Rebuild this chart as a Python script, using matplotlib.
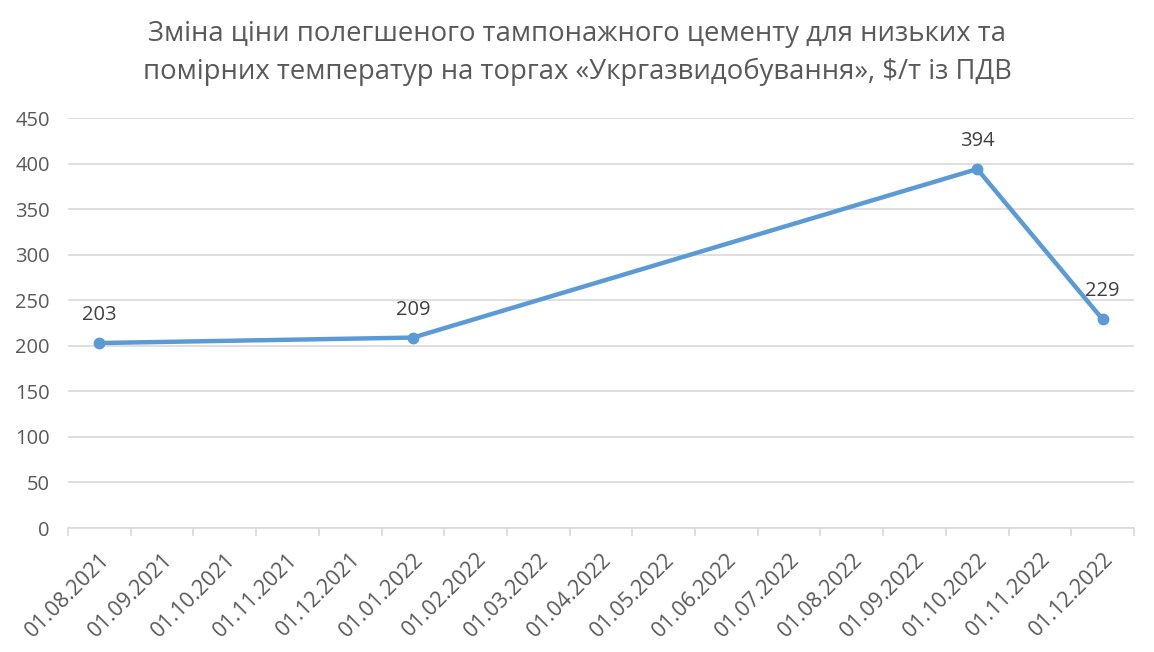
import matplotlib
matplotlib.use("Agg")
import matplotlib.pyplot as plt
import numpy as np

plt.rcParams['font.family'] = ['Open Sans', 'DejaVu Sans']

# category axis (monthly)
months = ["01.08.2021", "01.09.2021", "01.10.2021", "01.11.2021", "01.12.2021",
          "01.01.2022", "01.02.2022", "01.03.2022", "01.04.2022", "01.05.2022",
          "01.06.2022", "01.07.2022", "01.08.2022", "01.09.2022", "01.10.2022",
          "01.11.2022", "01.12.2022"]

# observed prices
dates = ["01.08.2021", "01.01.2022", "01.10.2022", "01.12.2022"]
prices = [203, 209, 394, 229]

title = ("Зміна ціни полегшеного тампонажного цементу для низьких та\n"
         "помірних температур на торгах «Укргазвидобування», $/т із ПДВ")

x_pos = [months.index(d) for d in dates]

fig = plt.figure(figsize=(11.54, 6.52), dpi=100)
ax = fig.add_axes([68 / 1154, 1 - 528 / 652, (1134 - 68) / 1154, (528 - 118) / 652])

line_color = '#5b9bd5'
grid_color = '#d9d9d9'
text_color = '#595959'

ax.plot(x_pos, prices, color=line_color, lw=3.2, marker='o', ms=7.5,
        solid_capstyle='round', zorder=3, clip_on=False)

for xi, v in zip(x_pos, prices):
    ax.annotate(str(v), (xi, v), xytext=(0, 13), textcoords='offset points',
                ha='center', va='bottom', fontsize=14.5, color='#404040')

ax.set_xlim(-0.5, len(months) - 0.5)
ax.set_ylim(0, 450)
ax.set_yticks(np.arange(0, 451, 50))
ax.yaxis.grid(True, color=grid_color, lw=1.2)
ax.set_axisbelow(True)

ax.set_xticks(np.arange(len(months)))
ax.set_xticklabels(months, rotation=45, ha='right', rotation_mode='anchor')
ax.set_xticks(np.arange(len(months) + 1) - 0.5, minor=True)
ax.tick_params(axis='x', which='major', length=0, pad=15, labelsize=15.5, labelcolor=text_color)
ax.tick_params(axis='x', which='minor', length=6, width=1.2, color=grid_color)
ax.tick_params(axis='y', length=0, pad=13, labelsize=14.5, labelcolor=text_color)

for s in ['top', 'right', 'left']:
    ax.spines[s].set_visible(False)
ax.spines['bottom'].set_color(grid_color)
ax.spines['bottom'].set_linewidth(1.2)

fig.text(0.5, 1 - 53 / 652, title, ha='center', va='center', fontsize=19.8,
         color=text_color, linespacing=1.5)

fig.savefig("out.png", dpi=100, facecolor='white')
